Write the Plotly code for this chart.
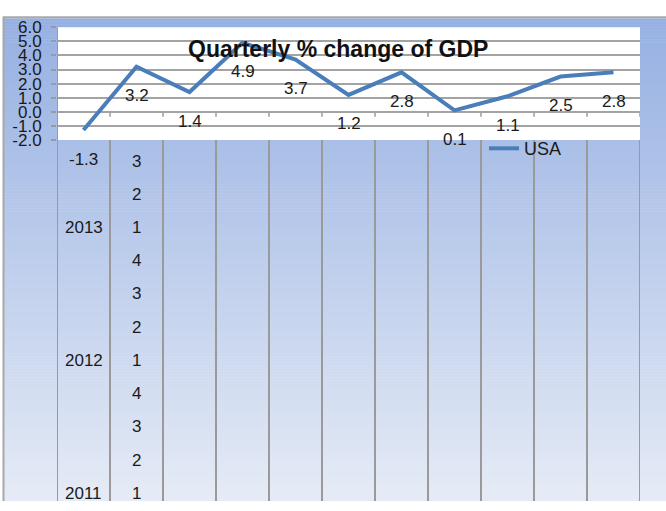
import plotly.graph_objects as go

# ---- data ----
quarter_labels = ["1", "2", "3", "4", "1", "2", "3", "4", "1", "2", "3"]
year_labels = ["2011", "2012", "2013"]
values = [-1.3, 3.2, 1.4, 4.9, 3.7, 1.2, 2.8, 0.1, 1.1, 2.5, 2.8]
series_name = "USA"
chart_title = "Quarterly % change of GDP"
y_tick_values = [-2, -1, 0, 1, 2, 3, 4, 5, 6]
y_tick_labels = [f"{v:.1f}" for v in y_tick_values]

W, H = 666, 511


def px(x):
    return x / W


def py(y):
    return 1 - y / H


FONT = "Liberation Sans, Arial, sans-serif"
TEXT = "#1a1a1a"
GRID = "#a3a3a3"
LINE = "#4A7EBB"

cats = list(range(len(values)))
dom_x = [px(57), px(640)]
dom_y = [py(136), py(19)]

fig = go.Figure()
fig.add_trace(go.Scatter(
    x=cats, y=values, mode="lines", name=series_name,
    line=dict(color=LINE, width=4), cliponaxis=False,
))

shapes = []
# background gradient (decorative)
top_c = (150, 176, 226)
bot_c = (229, 235, 246)
y_start, y_end = 9.5, 511
N = 160
for k in range(N):
    t = k / (N - 1)
    c = tuple(round(top_c[j] + (bot_c[j] - top_c[j]) * t) for j in range(3))
    ya = y_start + (y_end - y_start) * k / N
    yb = y_start + (y_end - y_start) * (k + 1) / N
    shapes.append(dict(type="rect", xref="paper", yref="paper",
                       x0=px(4), x1=1, y0=max(py(yb + 0.6), 0), y1=py(ya),
                       fillcolor=f"rgb{c}", line=dict(width=0), layer="below"))
# outer frame lines
shapes.append(dict(type="line", xref="paper", yref="paper", x0=px(3), x1=1,
                   y0=py(8.5), y1=py(8.5), line=dict(color="#a8a8a8", width=2), layer="below"))
shapes.append(dict(type="line", xref="paper", yref="paper", x0=px(3.5), x1=px(3.5),
                   y0=0, y1=py(8), line=dict(color="#a8a8a8", width=2), layer="below"))
# white plot area
shapes.append(dict(type="rect", xref="x domain", yref="y domain", x0=0, x1=1, y0=0, y1=1,
                   fillcolor="white", line=dict(width=0), layer="below"))
# category boundary lines running below the plot area
bounds = [i - 0.5 for i in range(len(values) + 1)]
for b in bounds:
    top = dom_y[1] if b == bounds[0] else dom_y[0]
    shapes.append(dict(type="line", xref="x", yref="paper", x0=b, x1=b, y0=0, y1=top,
                       line=dict(color="#9a9a9a", width=2), layer="above"))
# tick marks on the zero line
for b in bounds[1:]:
    shapes.append(dict(type="line", xref="x", yref="y", x0=b, x1=b, y0=0, y1=-0.35,
                       line=dict(color="#9a9a9a", width=1.5), layer="below"))

annotations = []
annotations.append(dict(text=f"<b>{chart_title}</b>", xref="paper", yref="paper",
                        x=px(338), y=py(42), xanchor="center", yanchor="middle",
                        showarrow=False, font=dict(family=FONT, size=23, color="#111")))
for i, v in enumerate(values):
    annotations.append(dict(text=f"{v:.1f}", xref="x", yref="y", x=i, y=v, yshift=-29,
                            xanchor="center", yanchor="middle",
                            showarrow=False, font=dict(family=FONT, size=17, color=TEXT)))
# broken multi-level category labels stacked in the first two columns
row0, row_step = 158, 34.5
n = len(values)
for i, q in enumerate(quarter_labels):
    ypx = row0 + (n - 1 - i) * row_step
    annotations.append(dict(text=q, xref="x", yref="paper", x=1, y=py(ypx),
                            xanchor="center", yanchor="middle", showarrow=False,
                            font=dict(family=FONT, size=17, color=TEXT)))
    if q == "1":
        annotations.append(dict(text=year_labels[i // 4], xref="x", yref="paper", x=0,
                                y=py(ypx), xanchor="center", yanchor="middle",
                                showarrow=False,
                                font=dict(family=FONT, size=17, color=TEXT)))

fig.update_layout(
    width=W, height=H, margin=dict(l=0, r=0, t=0, b=0),
    paper_bgcolor="white", plot_bgcolor="rgba(0,0,0,0)",
    font=dict(family=FONT, color=TEXT),
    showlegend=True,
    legend=dict(x=px(484), y=py(145), xanchor="left", yanchor="middle",
                bgcolor="rgba(0,0,0,0)", font=dict(family=FONT, size=18, color=TEXT)),
    xaxis=dict(domain=dom_x, range=[-0.5, n - 0.5], showticklabels=False, showgrid=False,
               zeroline=False, showline=False, ticks=""),
    yaxis=dict(domain=dom_y, range=[-2, 6], tickvals=y_tick_values, ticktext=y_tick_labels,
               ticks="outside", ticklen=5, tickcolor="#9a9a9a", tickwidth=1.5,
               showgrid=True, gridcolor=GRID, gridwidth=2, zeroline=False, showline=False,
               ticklabelstandoff=6,
               tickfont=dict(family=FONT, size=17, color=TEXT)),
    shapes=shapes, annotations=annotations,
)

fig.write_html("out.html", config={"displayModeBar": False},
               post_script="document.body.style.margin='0';document.body.style.overflow='hidden';")
